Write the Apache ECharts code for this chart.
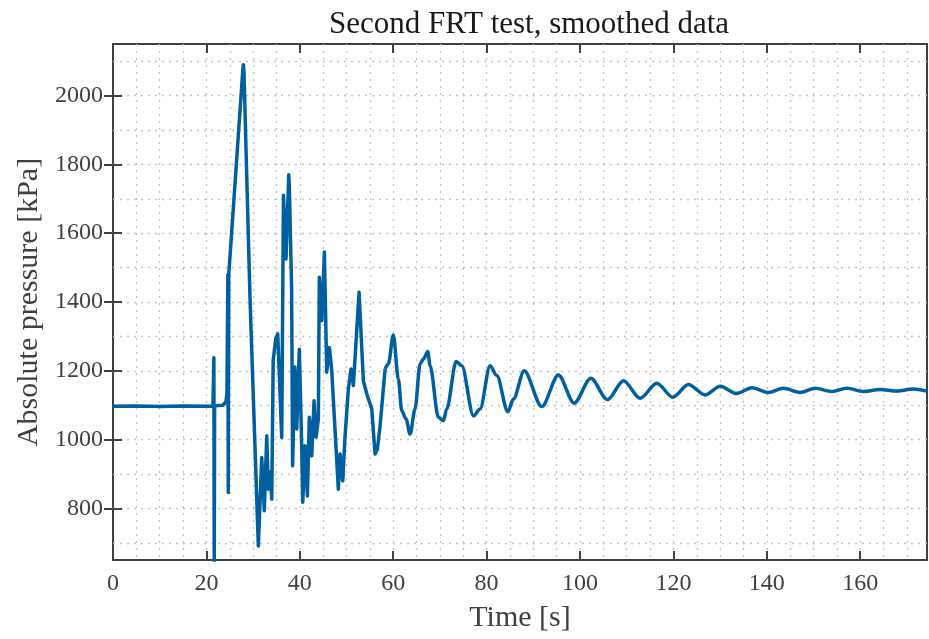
<!DOCTYPE html>
<html>
<head>
<meta charset="utf-8">
<script src="https://cdn.jsdelivr.net/npm/echarts@6/dist/echarts.min.js"></script>
<style>
html,body{margin:0;padding:0;background:#fff;}
#chart{width:929px;height:639px;}
</style>
</head>
<body>
<div id="chart"></div>
<script>
// ---- data ----
const timeS = [0, 5, 10, 15, 21.4, 21.6, 21.68, 21.76, 22.5, 23.5, 24.2, 24.4, 24.6, 24.68, 24.78,
  26.3, 27.8, 27.92, 28.05, 29.34, 30.23, 31.12, 31.85, 32.4, 32.92, 33.26, 33.63, 33.99, 34.3, 34.85, 35.27,
  35.62, 36.13, 36.5, 37.05, 37.63, 37.75, 38.25, 38.46, 38.95, 39.34, 39.9, 40.42, 40.63, 41.13,
  41.62, 42.04, 42.56, 43.05, 43.48, 43.97, 44.18, 44.7, 45.26, 45.77, 46.33, 46.84, 48.25, 48.62,
  49.2, 49.69, 50.4, 50.97, 51.47, 52.69, 53.61, 54.47, 55.41, 56.11, 56.61, 57.19, 58.26, 58.96,
  60.03, 61.1, 61.83, 62.75, 63.61, 64.68, 65.75, 66.46, 67.4, 67.9, 69.67, 70.74, 71.47, 73.46,
  74.69, 77.17, 78.6, 80.74, 82.18, 84.54, 85.74, 88.03, 91.82, 95.37, 98.74, 102.31, 105.9, 109.3,
  112.87, 116.45, 119.88, 123.22, 126.8, 130.0, 133.58, 136.8, 140.35, 143.56, 147.14, 150.35,
  153.93, 157.14, 160.7, 164.27, 167.85, 171.4, 174.3];
const pressureKPa = [1097, 1098, 1096, 1098, 1097, 1238, 600, 1098, 1099, 1100, 1110, 1135, 1480, 846, 1478,
  1778, 2075, 2090, 2065, 1409, 1050, 691, 948, 793, 1011, 856, 905, 827, 1230, 1293, 1307,
  1186, 1006, 1710, 1525, 1770, 1740, 1438, 924, 1211, 1031, 1263, 972, 818, 982,
  836, 1065, 953, 1113, 1007, 1060, 1472, 1346, 1545, 1196, 1268, 1200, 856, 958,
  880, 1011, 1147, 1205, 1157, 1428, 1171, 1127, 1089, 958, 972, 1040, 1205, 1220,
  1304, 1176, 1084, 1060, 1016, 1089, 1220, 1234, 1256, 1215, 1065, 1055, 1089, 1227,
  1215, 1069, 1089, 1215, 1186, 1081, 1118, 1200, 1096, 1188, 1106, 1178, 1116, 1171,
  1120, 1164, 1123, 1160, 1130, 1155, 1134, 1151, 1137, 1149, 1137, 1149,
  1140, 1149, 1140, 1146, 1141, 1147, 1141];
const smoothFromTime = 58.26; // damped-oscillation tail is drawn with a smoothed path
const xTickLabels = [0, 20, 40, 60, 80, 100, 120, 140, 160];
const yTickLabels = [800, 1000, 1200, 1400, 1600, 1800, 2000];
const xGrid = [5,10,15,20,25,30,35,40,45,50,55,60,65,70,75,80,85,90,95,100,105,110,115,120,125,130,135,140,145,150,155,160,165,170];
const yGrid = [700,800,900,1000,1100,1200,1300,1400,1500,1600,1700,1800,1900,2000,2100];
const xRange = [0, 174.3];
const yRange = [650, 2150];
const titleText = 'Second FRT test, smoothed data';
const xName = 'Time [s]';
const yName = 'Absolute pressure [kPa]';

// ---- chart ----
const FONT = '"Liberation Serif", "Times New Roman", serif';
const AX = '#404040';
const LINE = '#005f9e';
const seriesData = timeS.map((t, i) => [t, pressureKPa[i]]);
const headData = seriesData.filter(p => p[0] <= smoothFromTime);
const tailData = seriesData.filter(p => p[0] >= smoothFromTime);
const tickStyle = {show: true, inside: true, length: 9, lineStyle: {color: AX, width: 2}};
const gridLine = {show: true, lineStyle: {color: '#c4c4c4', width: 1.3, type: [2, 5]}};
const plain = v => String(v);

const chart = echarts.init(document.getElementById('chart'), null, {renderer: 'canvas'});
chart.setOption({
  animation: false,
  backgroundColor: '#fff',
  title: {
    text: titleText, left: 524, top: 4, textAlign: 'center',
    textStyle: {fontFamily: FONT, fontWeight: 'normal', fontSize: 31, color: '#1a1a1a'}
  },
  grid: {left: 113, right: 2, top: 44, bottom: 79, show: true, borderColor: AX, borderWidth: 2, backgroundColor: 'transparent'},
  xAxis: [
    {type: 'value', position: 'bottom', min: xRange[0], max: xRange[1],
     axisLine: {show: false},
     axisTick: Object.assign({customValues: xTickLabels}, tickStyle),
     axisLabel: {customValues: xTickLabels, formatter: plain, margin: 12, fontFamily: FONT, fontSize: 24, color: AX},
     splitLine: {show: false},
     name: xName, nameLocation: 'middle', nameGap: 43,
     nameTextStyle: {fontFamily: FONT, fontSize: 30, color: AX}},
    {type: 'value', position: 'top', min: xRange[0], max: xRange[1],
     axisLine: {show: false},
     axisTick: Object.assign({customValues: xTickLabels}, tickStyle),
     axisLabel: {show: false}, splitLine: {show: false}},
    {type: 'value', position: 'bottom', min: xRange[0], max: xRange[1],
     axisLine: {show: false}, axisTick: {show: false, customValues: xGrid}, axisLabel: {show: false},
     splitLine: gridLine}
  ],
  yAxis: [
    {type: 'value', position: 'left', min: yRange[0], max: yRange[1],
     axisLine: {show: false},
     axisTick: Object.assign({customValues: yTickLabels}, tickStyle),
     axisLabel: {customValues: yTickLabels, formatter: plain, margin: 10, fontFamily: FONT, fontSize: 24, color: AX},
     splitLine: {show: false},
     name: yName, nameLocation: 'middle', nameGap: 69, nameRotate: 90,
     nameTextStyle: {fontFamily: FONT, fontSize: 30, color: AX}},
    {type: 'value', position: 'right', min: yRange[0], max: yRange[1],
     axisLine: {show: false},
     axisTick: Object.assign({customValues: yTickLabels}, tickStyle),
     axisLabel: {show: false}, splitLine: {show: false}},
    {type: 'value', position: 'left', min: yRange[0], max: yRange[1],
     axisLine: {show: false}, axisTick: {show: false, customValues: yGrid}, axisLabel: {show: false},
     splitLine: gridLine}
  ],
  series: [
    {type: 'line', xAxisIndex: 0, yAxisIndex: 0, data: headData,
     showSymbol: false, symbol: 'none', clip: true, smooth: false,
     lineStyle: {color: LINE, width: 3.5, join: 'round'}},
    {type: 'line', xAxisIndex: 0, yAxisIndex: 0, data: tailData,
     showSymbol: false, symbol: 'none', clip: true, smooth: 0.3, smoothMonotone: 'x',
     lineStyle: {color: LINE, width: 3.5, join: 'round'}}
  ]
});
</script>
</body>
</html>
